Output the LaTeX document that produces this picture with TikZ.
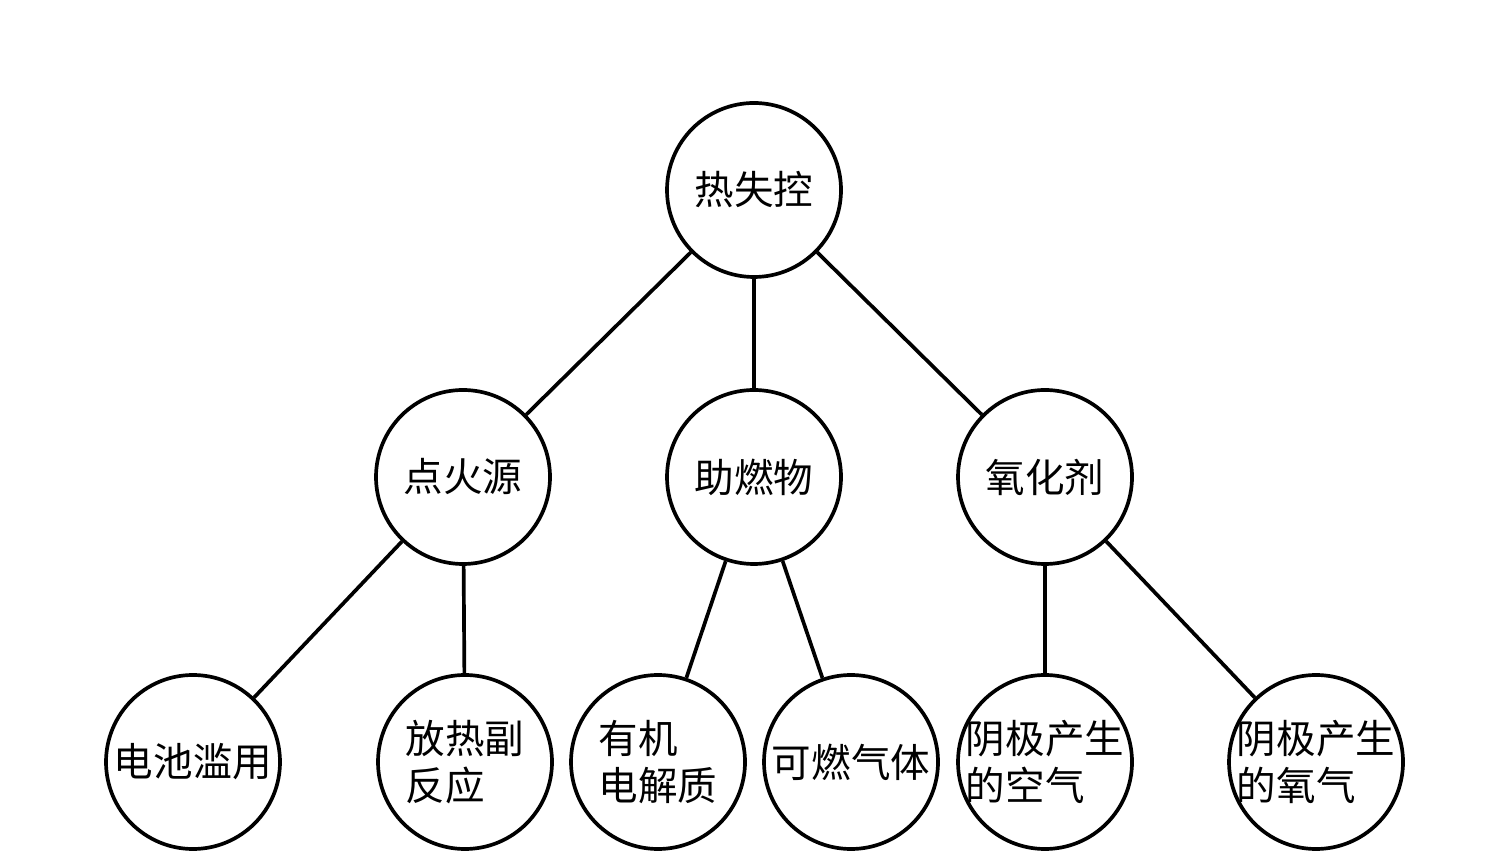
\documentclass[tikz,border=0pt]{standalone}
\usepackage{fontspec}
\newfontfamily\cjk{Noto Sans CJK SC}
\usepackage{tikz}

\begin{document}
\begin{tikzpicture}[line width=2.1pt, ring/.style={circle, draw, minimum size=3.48cm, inner sep=-4mm, align=left, font=\cjk\fontsize{22.5}{26.5}\selectfont}]
			\useasboundingbox (0,0) rectangle (30.12,17.24);
			\node[ring] (rskong) at (15.08,13.44) {热失控};
			\node[ring] (dhy) at (9.26,7.70) {点火源};
			\node[ring] (zrw) at (15.08,7.70) {助燃物};
			\node[ring] (yhj) at (20.90,7.70) {氧化剂};
			\node[ring] (dclan) at (3.86,2.00) {电池滥用};
			\node[ring] (frfy) at (9.30,2.00) {放热副\\反应};
			\node[ring] (yjdj) at (13.16,2.00) {有机\\电解质};
			\node[ring] (krqt) at (17.02,2.00) {可燃气体};
			\node[ring] (kq) at (20.90,2.00) {阴极产生\\的空气};
			\node[ring] (yq) at (26.32,2.00) {阴极产生\\的氧气};
			\draw (rskong) -- (dhy);
			\draw (rskong) -- (zrw);
			\draw (rskong) -- (yhj);
			\draw (dhy) -- (dclan);
			\draw (dhy) -- (frfy);
			\draw (zrw) -- (yjdj);
			\draw (zrw) -- (krqt);
			\draw (yhj) -- (kq);
			\draw (yhj) -- (yq);
		\end{tikzpicture}
\end{document}
